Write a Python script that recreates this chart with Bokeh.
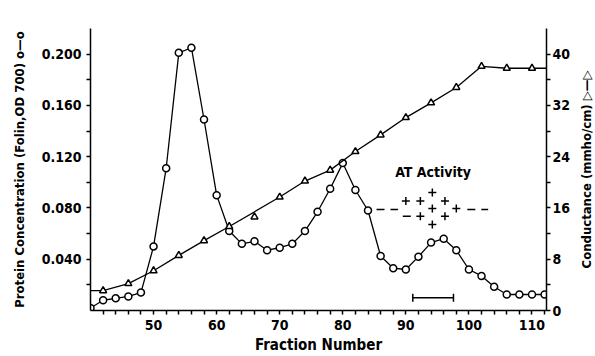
import math
from bokeh.plotting import figure
from bokeh.layouts import row
from bokeh.models import Range1d, LinearAxis, FixedTicker, NumeralTickFormatter, Label
from bokeh.embed import file_html
from bokeh.resources import INLINE

# ---------------- data ----------------
fraction = [40, 42, 44, 46, 48, 50, 52, 54, 56, 58, 60, 62, 64, 66, 68, 70, 72, 74, 76,
            78, 80, 82, 84, 86, 88, 90, 92, 94, 96, 98, 100, 102, 104, 106, 108, 110, 112]
protein = [0.002, 0.008, 0.0095, 0.011, 0.014, 0.050, 0.111, 0.201, 0.205, 0.149, 0.090,
           0.062, 0.052, 0.054, 0.047, 0.049, 0.052, 0.062, 0.077, 0.095, 0.115, 0.094,
           0.078, 0.0425, 0.033, 0.032, 0.042, 0.053, 0.056, 0.047, 0.032, 0.027, 0.0185,
           0.0125, 0.0125, 0.0125, 0.0125]

cond_fraction = [42, 46, 50, 54, 58, 62, 66, 70, 74, 78, 82, 86, 90, 94, 98, 102, 106, 110]
conductance = [3.1, 4.2, 6.2, 8.6, 10.9, 13.1, 14.6, 17.7, 20.2, 21.9, 24.8, 27.4, 30.1,
               32.4, 34.8, 38.1, 37.8, 37.8]
cond_on_line = [True, True, True, True, True, True, False, True, True, True, True, True,
                True, True, True, True, True, True]

# AT activity marks (fraction, conductance-scale level)
at_plus_fraction = [90.0, 92.3, 94.2, 96.2, 98.0, 92.3, 94.2, 94.2, 96.2]
at_plus_level = [17.1, 17.1, 18.4, 17.1, 15.9, 14.7, 15.9, 13.4, 14.7]
at_minus_fraction = [90.15]
at_minus_level = [14.7]
at_dash_start = [85.35, 99.75]
at_dash_end = [88.75, 103.05]
at_dash_level = [15.75, 15.75]

# pooled fractions bar
pool_start, pool_end, pool_level = 91.1, 97.55, 2.0

x_ticks = [50, 60, 70, 80, 90, 100, 110]
x_minor = [42, 44, 46, 48, 52, 54, 56, 58, 62, 64, 66, 68, 72, 74, 76, 78, 82, 84, 86, 88,
           92, 94, 96, 98, 102, 104, 106, 108, 112]
left_ticks = [0.04, 0.08, 0.12, 0.16, 0.20]
left_minor = [0.02, 0.06, 0.10, 0.14, 0.18]
right_ticks = [0, 8, 16, 24, 32, 40]
right_minor = [4, 12, 20, 28, 36]

FONT = "'DejaVu Sans Condensed', 'DejaVu Sans'"

# ---------------- main figure ----------------
p = figure(width=573, height=356, x_range=Range1d(40, 112.3), y_range=Range1d(0, 0.22),
           output_backend="svg", toolbar_location=None, title=None,
           min_border_left=90, min_border_right=23, min_border_top=28, min_border_bottom=43)
p.extra_y_ranges = {"cond": Range1d(0, 44)}
p.outline_line_color = None
p.xgrid.visible = False
p.ygrid.visible = False
p.background_fill_color = "white"
p.border_fill_color = "white"

raxis = LinearAxis(y_range_name="cond")
p.add_layout(raxis, "right")

xa = p.xaxis[0]
ya = p.yaxis[0]
xa.ticker = FixedTicker(ticks=x_ticks, minor_ticks=x_minor)
ya.ticker = FixedTicker(ticks=left_ticks, minor_ticks=left_minor)
ya.formatter = NumeralTickFormatter(format="0.000")
raxis.ticker = FixedTicker(ticks=right_ticks, minor_ticks=right_minor)

xa.axis_label = "Fraction Number"
ya.axis_label = "Protein Concentration (Folin,OD 700) o\u2014o"

for ax in (xa, ya, raxis):
    ax.axis_line_width = 1.5
    ax.axis_line_color = "black"
    ax.major_tick_out = 4
    ax.major_tick_in = 0
    ax.minor_tick_out = 4
    ax.minor_tick_in = 0
    ax.major_tick_line_width = 1.5
    ax.minor_tick_line_width = 1.5
    ax.major_tick_line_color = "black"
    ax.minor_tick_line_color = "black"
    ax.major_label_text_font = FONT
    ax.major_label_text_font_style = "bold"
    ax.major_label_text_font_size = "14px"
    ax.major_label_text_color = "black"
    ax.axis_label_text_font = FONT
    ax.axis_label_text_font_style = "bold"
    ax.axis_label_text_color = "black"
    ax.axis_label_text_font_size = "13px"
xa.axis_label_text_font_size = "15px"
xa.major_label_standoff = 5
xa.axis_label_standoff = 3
ya.major_label_standoff = 5
ya.axis_label_standoff = 12
raxis.major_label_standoff = 2

# ---------------- data marks ----------------
p.line(fraction, protein, line_color="black", line_width=1.3)
p.scatter(fraction, protein, marker="circle", size=7, fill_color="white",
          line_color="black", line_width=1.5)

line_x = [p.x_range.start] + [f for f, on in zip(cond_fraction, cond_on_line) if on] + [p.x_range.end]
line_yv = [c for c, on in zip(conductance, cond_on_line) if on]
line_y = [line_yv[0]] + line_yv + [line_yv[-1]]
p.line(line_x, line_y, line_color="black", line_width=1.3, y_range_name="cond")
p.scatter(cond_fraction, conductance, marker="triangle", size=7, fill_color="white",
          line_color="black", line_width=1.5, y_range_name="cond")

p.scatter(at_plus_fraction, at_plus_level, marker="cross", size=8, line_color="black",
          line_width=1.5, y_range_name="cond")
p.scatter(at_minus_fraction, at_minus_level, marker="dash", size=8, line_color="black",
          line_width=1.5, y_range_name="cond")
p.segment(x0=at_dash_start, y0=at_dash_level, x1=at_dash_end, y1=at_dash_level,
          line_color="black", line_width=1.5, line_dash="8 6", y_range_name="cond")

p.segment(x0=[pool_start], y0=[pool_level], x1=[pool_end], y1=[pool_level],
          line_color="black", line_width=1.5, y_range_name="cond")
p.scatter([pool_start, pool_end], [pool_level, pool_level], marker="dash", angle=math.pi / 2,
          size=8, line_color="black", line_width=1.5, y_range_name="cond")

p.add_layout(Label(x=88.3, y=21.6, y_range_name="cond", text="AT Activity",
                   text_font=FONT, text_font_style="bold", text_font_size="14px",
                   text_align="left", text_baseline="middle", text_color="black"))

# ---------------- narrow strip carrying the conductance title (reads bottom-to-top) ----------------
t = figure(width=22, height=356, x_range=Range1d(0, 1), y_range=Range1d(0, 44),
           output_backend="svg", toolbar_location=None, title=None, x_axis_location=None,
           min_border_left=20, min_border_right=0, min_border_top=28, min_border_bottom=43)
t.outline_line_color = None
t.xgrid.visible = False
t.ygrid.visible = False
t.background_fill_color = "white"
t.border_fill_color = "white"
ta = t.yaxis[0]
ta.ticker = FixedTicker(ticks=[], minor_ticks=[])
ta.axis_line_color = None
ta.major_tick_line_color = None
ta.minor_tick_line_color = None
ta.major_label_text_font_size = "0px"
ta.major_label_standoff = 0
ta.axis_label = "Conductance (mmho/cm) \u25b7\u2014\u25b7"
ta.axis_label_text_font = "'DejaVu Sans Condensed', 'DejaVu Sans', 'DejaVu Serif'"
ta.axis_label_text_font_style = "bold"
ta.axis_label_text_font_size = "13px"
ta.axis_label_text_color = "black"
ta.axis_label_standoff = 0

layout = row(p, t, spacing=0)
open("out.html", "w").write(file_html(layout, INLINE))
